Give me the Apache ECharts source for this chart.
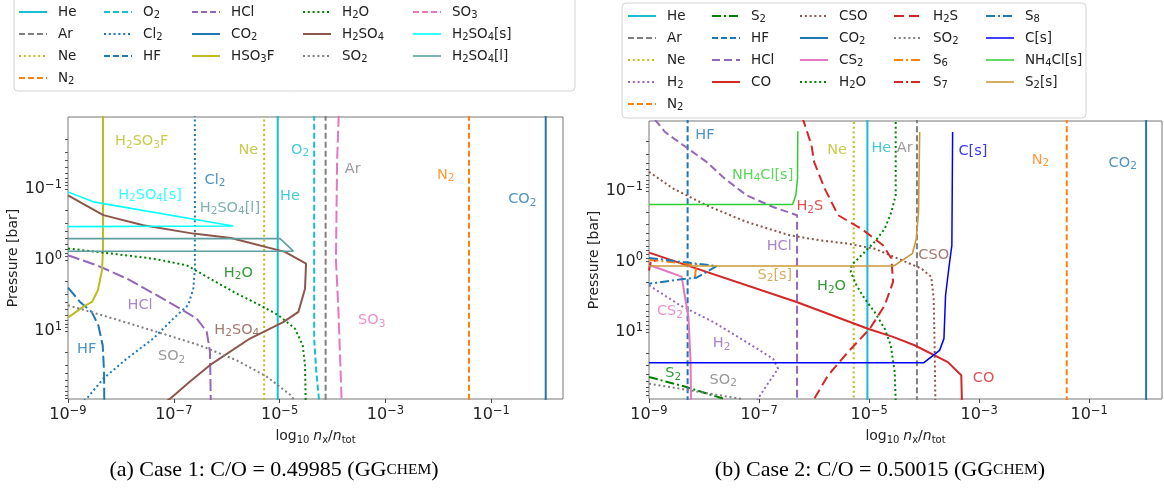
<!DOCTYPE html>
<html>
<head>
<meta charset="utf-8">
<script src="https://cdn.jsdelivr.net/npm/echarts@6/dist/echarts.min.js"></script>
<style>
  html, body { margin: 0; padding: 0; background: #fff; }
  #chart { width: 1164px; height: 494px; }
</style>
</head>
<body>
<div id="chart"></div>
<script>
// every curve is a list of [n_x/n_tot, pressure in bar]

// ---- case 1 (left panel) ----
const aHe = [[9.2e-6, 0.009], [9.2e-6, 100]];
const aAr = [[7.4e-5, 0.009], [7.4e-5, 100]];
const aNe = [[5.1e-6, 0.009], [5.1e-6, 100]];
const aN2 = [[0.038, 0.009], [0.038, 100]];
const aO2 = [[4.5e-5, 0.009], [4.5e-5, 13], [4.9e-5, 35], [5.6e-5, 100]];
const aCl2 = [[2.5e-7, 0.009], [2.5e-7, 1.33], [2.34e-7, 2.53], [1.88e-7, 4.3], [9.8e-8, 6.7],
  [4.1e-8, 12.8], [1.29e-8, 24.6], [4.65e-9, 47], [2.26e-9, 90], [1.9e-9, 100]];
const aHF = [[1.0e-9, 2.45], [1.69e-9, 3.91], [2.8e-9, 5.4], [3.74e-9, 8.3], [4.53e-9, 15.9],
  [4.8e-9, 37.8], [4.85e-9, 100]];
const aHCl = [[1e-9, 0.86], [3.5e-9, 1.19], [1.29e-8, 1.83], [4.75e-8, 3.14], [1.31e-7, 4.85],
  [2.71e-7, 6.7], [4.19e-7, 10.3], [4.83e-7, 19.8], [5.0e-7, 100]];
const aCO2 = [[1.07, 0.009], [1.07, 100]];
const aHSO3F = [[1e-9, 6.5], [1.92e-9, 4.59], [2.84e-9, 3.91], [3.69e-9, 2.65], [4.4e-9, 1.38],
  [4.59e-9, 0.72], [4.59e-9, 0.009]];
const aH2O = [[1e-9, 0.69], [6.2e-9, 0.81], [4.1e-8, 0.96], [1.75e-7, 1.19], [4.8e-7, 1.83],
  [1.55e-6, 2.98], [4.27e-6, 4.35], [9.4e-6, 6.0], [1.95e-5, 9.3], [2.73e-5, 15.9],
  [3.02e-5, 30.4], [3.11e-5, 100]];
const aH2SO4 = [[1e-9, 0.123], [4.65e-9, 0.234], [2.65e-8, 0.324], [2.34e-7, 0.426], [1.2e-6, 0.49],
  [1.26e-5, 0.77], [3.16e-5, 1.13], [3.02e-5, 2.54], [2.26e-5, 5.4], [1.17e-5, 7.5],
  [2.75e-6, 12.8], [4.8e-7, 30.4], [2.0e-7, 52], [8.5e-8, 90], [7e-8, 100]];
const aSO2 = [[1e-9, 4.35], [7.2e-9, 6.7], [4.75e-8, 10.3], [3.13e-7, 16], [1.55e-6, 26],
  [5.7e-6, 44], [1.6e-5, 80], [2.0e-5, 100]];
const aSO3 = [[1.31e-4, 0.009], [1.22e-4, 0.04], [1.16e-4, 1.0], [1.29e-4, 5.1], [1.49e-4, 100]];
const aH2SO4s = [[1e-9, 0.11], [3.0e-9, 0.152], [1.33e-6, 0.332], [1e-9, 0.34]];
const aH2SO4l = [[1e-9, 0.501], [1.02e-5, 0.501], [1.82e-5, 0.753], [1e-9, 0.753]];

// ---- case 2 (right panel) ----
const bHe = [[9.3e-6, 0.009], [9.3e-6, 100]];
const bAr = [[7.4e-5, 0.009], [7.4e-5, 100]];
const bNe = [[5.26e-6, 0.009], [5.26e-6, 100]];
const bN2 = [[0.039, 0.009], [0.039, 100]];
const bCO2 = [[1.08, 0.009], [1.08, 100]];
const bHF = [[5.03e-9, 0.009], [5.03e-9, 100]];
const bH2 = [[1e-9, 2.18], [3.66e-9, 4.18], [1.47e-8, 7.2], [5.9e-8, 13.9], [1.8e-7, 23.9],
  [2.22e-7, 33.2], [1.37e-7, 57], [9.6e-8, 88], [9e-8, 100]];
const bS2 = [[1e-9, 43.4], [4.8e-9, 60.3], [2.23e-8, 88], [2.6e-8, 100]];
const bHCl = [[1.29e-9, 0.0098], [1.95e-9, 0.0146], [4.2e-9, 0.0225], [1.11e-8, 0.0388],
  [2.39e-8, 0.067], [5.9e-8, 0.115], [1.8e-7, 0.169], [4.9e-7, 0.221], [4.9e-7, 100]];
const bCO = [[1e-9, 0.75], [4.8e-7, 3.75], [9.5e-6, 8.97], [2.72e-5, 11.7], [6.7e-5, 15.4],
  [2.7e-4, 26.7], [4.73e-4, 41], [4.86e-4, 100]];
const bCSO = [[1e-9, 0.0537], [2.76e-9, 0.0928], [1.11e-8, 0.16], [5.9e-8, 0.275], [3.6e-7, 0.425],
  [1.27e-6, 0.5], [4.14e-6, 0.56], [1.26e-5, 0.66], [3.35e-5, 0.91], [8.9e-5, 1.26],
  [1.35e-4, 1.66], [1.49e-4, 3.37], [1.55e-4, 15.4], [1.6e-4, 100]];
const bCS2 = [[1e-9, 1.12], [1.82e-9, 1.32], [3.92e-9, 1.64], [4.5e-9, 3.16], [5.2e-9, 6.07],
  [5.7e-9, 26.7], [5.8e-9, 100]];
const bH2O = [[3.04e-5, 0.009], [3.04e-5, 0.114], [2.54e-5, 0.199], [1.92e-5, 0.343],
  [1.26e-5, 0.528], [8.3e-6, 0.733], [6.3e-6, 0.912], [4.78e-6, 1.13], [4.64e-6, 1.41],
  [5.9e-6, 2.18], [8.3e-6, 3.37], [1.26e-5, 5.2], [1.92e-5, 8.97], [2.47e-5, 15.4],
  [2.92e-5, 36.9], [3.04e-5, 100]];
const bH2S = [[6.1e-7, 0.009], [8.97e-7, 0.0225], [1.0e-6, 0.0388], [1.56e-6, 0.0928],
  [2.73e-6, 0.221], [7.24e-6, 0.343], [1.79e-5, 0.589], [2.54e-5, 0.91], [2.72e-5, 1.95],
  [1.92e-5, 4.18], [1.03e-5, 8.97], [4.14e-6, 19.2], [1.8e-6, 41], [1.01e-6, 88], [9e-7, 100]];
const bSO2 = [[1e-9, 54], [5.5e-9, 67], [4.5e-8, 88], [6e-8, 100]];
const bS6 = [[1.02e-9, 0.95], [7.3e-9, 1.11], [6.8e-9, 1.7]];
const bS7 = [[1e-9, 1.35], [1.06e-9, 1.05], [1.3e-9, 0.97]];
const bS8 = [[1e-9, 0.89], [4.2e-9, 1.02], [1.69e-8, 1.16], [1.11e-8, 1.41], [7.3e-9, 1.7],
  [4.2e-9, 1.77], [1e-9, 2.07]];
const bCs = [[1e-9, 27.2], [9.9e-5, 27.2], [1.91e-4, 18.2], [2.29e-4, 12.4], [2.45e-4, 3.01],
  [2.9e-4, 1.02], [3.19e-4, 0.59], [3.29e-4, 0.0146]];
const bNH4Cl = [[1e-9, 0.156], [4.06e-7, 0.156], [4.66e-7, 0.115], [5.0e-7, 0.067], [5.06e-7, 0.0142]];
const bS2s = [[1e-9, 1.16], [2.8e-5, 1.16], [6.1e-5, 0.775], [7.2e-5, 0.475], [7.9e-5, 0.199],
  [8.3e-5, 0.0146]];

// tick labels
const xTicks = [1e-9, 1e-7, 1e-5, 1e-3, 1e-1];
const yTicks = [0.1, 1, 10];

// in-plot annotations: [text, species, x, p]
const aNotes = [
  ['H₂SO₃F', 'HSO₃F', 2.47e-8, 0.0216], ['Cl₂', 'Cl₂', 6.0e-7, 0.0747], ['Ne', 'Ne', 2.56e-6, 0.0283],
  ['He', 'He', 1.57e-5, 0.128], ['O₂', 'O₂', 2.43e-5, 0.0283], ['Ar', 'Ar', 2.41e-4, 0.0528],
  ['N₂', 'N₂', 0.0138, 0.0636], ['CO₂', 'CO₂', 0.387, 0.14], ['SO₃', 'SO₃', 5.5e-4, 7.16],
  ['H₂SO₄[s]', 'H₂SO₄[s]', 3.55e-8, 0.122], ['H₂SO₄[l]', 'H₂SO₄[l]', 1.15e-6, 0.187],
  ['H₂O', 'H₂O', 1.66e-6, 1.54], ['HCl', 'HCl', 2.3e-8, 4.3], ['H₂SO₄', 'H₂SO₄', 1.55e-6, 9.7],
  ['HF', 'HF', 2.25e-9, 18.1], ['SO₂', 'SO₂', 9.1e-8, 23]
];
const bNotes = [
  ['HF', 'HF', 1.04e-8, 0.0161], ['NH₄Cl[s]', 'NH₄Cl[s]', 1.16e-7, 0.0593], ['H₂S', 'H₂S', 8.36e-7, 0.167],
  ['HCl', 'HCl', 2.32e-7, 0.617], ['S₂[s]', 'S₂[s]', 1.94e-7, 1.55], ['H₂O', 'H₂O', 2.07e-6, 2.28],
  ['CS₂', 'CS₂', 2.4e-9, 5.15], ['H₂', 'H₂', 2.08e-8, 14.5], ['S₂', 'S₂', 2.76e-9, 38.6],
  ['SO₂', 'SO₂', 2.23e-8, 48], ['Ne', 'Ne', 2.61e-6, 0.0262], ['He', 'He', 1.67e-5, 0.0248],
  ['Ar', 'Ar', 4.43e-5, 0.0248], ['C[s]', 'C[s]', 7.7e-4, 0.0277], ['N₂', 'N₂', 0.013, 0.0363],
  ['CO₂', 'CO₂', 0.406, 0.0405], ['CSO', 'CSO', 1.49e-4, 0.81], ['CO', 'CO', 1.2e-3, 45.4]
];

const caseA = [['He', aHe], ['Ar', aAr], ['Ne', aNe], ['N₂', aN2], ['O₂', aO2], ['Cl₂', aCl2],
  ['HF', aHF], ['HCl', aHCl], ['CO₂', aCO2], ['HSO₃F', aHSO3F], ['H₂O', aH2O], ['H₂SO₄', aH2SO4],
  ['SO₂', aSO2], ['SO₃', aSO3], ['H₂SO₄[s]', aH2SO4s], ['H₂SO₄[l]', aH2SO4l]];
const caseB = [['He', bHe], ['Ar', bAr], ['Ne', bNe], ['H₂', bH2], ['N₂', bN2], ['S₂', bS2],
  ['HF', bHF], ['HCl', bHCl], ['CO', bCO], ['CSO', bCSO], ['CO₂', bCO2], ['CS₂', bCS2],
  ['H₂O', bH2O], ['H₂S', bH2S], ['SO₂', bSO2], ['S₆', bS6], ['S₇', bS7], ['S₈', bS8],
  ['C[s]', bCs], ['NH₄Cl[s]', bNH4Cl], ['S₂[s]', bS2s]];

// legend columns (matplotlib fills them top to bottom)
const legendA = [['He', 'Ar', 'Ne', 'N₂'], ['O₂', 'Cl₂', 'HF'], ['HCl', 'CO₂', 'HSO₃F'],
  ['H₂O', 'H₂SO₄', 'SO₂'], ['SO₃', 'H₂SO₄[s]', 'H₂SO₄[l]']];
const legendB = [['He', 'Ar', 'Ne', 'H₂', 'N₂'], ['S₂', 'HF', 'HCl', 'CO'], ['CSO', 'CO₂', 'CS₂', 'H₂O'],
  ['H₂S', 'SO₂', 'S₆', 'S₇'], ['S₈', 'C[s]', 'NH₄Cl[s]', 'S₂[s]']];

// ---- styles ----
const FONT = 'DejaVu Sans';
const DASH = [6, 3], LDASH = [12, 4], DOT = [2, 2.8], DASHDOT = [9, 3, 2, 3];
const stylesA = {
  'He': ['#17becf', 'solid', 2], 'Ar': ['#7f7f7f', DASH, 2], 'Ne': ['#bcbd22', DOT, 2],
  'N₂': ['#ff7f0e', DASH, 2], 'O₂': ['#17becf', DASH, 2], 'Cl₂': ['#1f77b4', DOT, 2],
  'HF': ['#1f77b4', LDASH, 2], 'HCl': ['#9467bd', LDASH, 2], 'CO₂': ['#1f77b4', 'solid', 2],
  'HSO₃F': ['#bcbd22', 'solid', 2], 'H₂O': ['#008000', DOT, 2], 'H₂SO₄': ['#8c564b', 'solid', 2],
  'SO₂': ['#7f7f7f', DOT, 2], 'SO₃': ['#e377c2', LDASH, 2], 'H₂SO₄[s]': ['#00ffff', 'solid', 1.6],
  'H₂SO₄[l]': ['#5f9ea0', 'solid', 1.6]
};
const stylesB = {
  'He': ['#17becf', 'solid', 2], 'Ar': ['#7f7f7f', DASH, 2], 'Ne': ['#bcbd22', DOT, 2],
  'H₂': ['#9467bd', DOT, 2], 'N₂': ['#ff7f0e', DASH, 2], 'S₂': ['#008000', DASHDOT, 2],
  'HF': ['#1f77b4', DASH, 2], 'HCl': ['#9467bd', [8, 4], 2], 'CO': ['#d62728', 'solid', 2],
  'CSO': ['#8c564b', DOT, 2], 'CO₂': ['#1f77b4', 'solid', 2], 'CS₂': ['#e377c2', 'solid', 2],
  'H₂O': ['#008000', DOT, 2], 'H₂S': ['#d62728', [10, 5], 2], 'SO₂': ['#7f7f7f', DOT, 2],
  'S₆': ['#ff7f0e', DASHDOT, 2], 'S₇': ['#d62728', DASHDOT, 2], 'S₈': ['#1f77b4', DASHDOT, 2],
  'C[s]': ['#0000ff', 'solid', 1.5], 'NH₄Cl[s]': ['#32cd32', 'solid', 1.5], 'S₂[s]': ['#c9993a', 'solid', 1.6]
};

// subscript digits -> rich text so they look like mathtext
const SUBS = '₀₁₂₃₄₅₆₇₈₉';
const rich = s => s.replace(/[₀-₉]+/g, m => '{s|' + m.split('').map(c => SUBS.indexOf(c)).join('') + '}');
const pow10 = v => '{b|10}{e|' + String(Math.round(Math.log10(v))).replace('-', '−') + '}';
const tickRich = {
  b: { fontFamily: FONT, fontSize: 16, lineHeight: 20, color: '#222' },
  e: { fontFamily: FONT, fontSize: 11.5, lineHeight: 12, verticalAlign: 'top', color: '#222' }
};

// y tick marks: decades plus the 2..9 x 10^k minor marks matplotlib draws
const yTickMarks = yTicks.slice();
for (let k = -3; k <= 1; k++) for (let m = 2; m <= 9; m++) yTickMarks.push(m * Math.pow(10, k));

const chart = echarts.init(document.getElementById('chart'));

function makeSeries(list, styles, gi) {
  return list.map(([name, data]) => {
    const st = styles[name];
    return {
      type: 'line', name, data, xAxisIndex: gi, yAxisIndex: gi,
      symbol: 'none', showSymbol: false, silent: true, animation: false, z: 3,
      lineStyle: { color: st[0], width: st[2], type: st[1] },
      itemStyle: { color: st[0] },
      emphasis: { disabled: true }
    };
  });
}

function makeNotes(notes, styles, gi) {
  return {
    type: 'scatter', name: '_notes' + gi, xAxisIndex: gi, yAxisIndex: gi,
    symbolSize: 1, itemStyle: { color: 'transparent' }, silent: true, animation: false, z: 6,
    label: {
      show: true, position: 'inside', formatter: p => rich(p.name),
      fontFamily: FONT, fontSize: 14.5, lineHeight: 18
    },
    data: notes.map(n => {
      const c = styles[n[1]][0];
      return {
        name: n[0], value: [n[2], n[3]],
        label: { color: c, rich: { s: { fontFamily: FONT, fontSize: 10.5, lineHeight: 11, verticalAlign: 'bottom', color: c } } }
      };
    })
  };
}

function makeLegends(cols, xs, top, styles) {
  return cols.map((names, i) => ({
    orient: 'vertical', left: xs[i], top, padding: 0, itemGap: 6, itemWidth: 28, itemHeight: 14,
    selectedMode: false, z: 5,
    formatter: rich,
    itemStyle: { opacity: 0 },
    textStyle: {
      fontFamily: FONT, fontSize: 13.5, lineHeight: 16, color: '#222', padding: [0, 0, 0, 6],
      rich: { s: { fontFamily: FONT, fontSize: 10, lineHeight: 10, verticalAlign: 'bottom', color: '#222' } }
    },
    data: names.map(n => ({
      name: n,
      itemStyle: { opacity: 0 },
      lineStyle: { color: styles[n][0], width: styles[n][2], type: styles[n][1] === LDASH ? DASH : styles[n][1] }
    }))
  }));
}

function xAxisFor(gi, max) {
  return {
    type: 'log', logBase: 10, gridIndex: gi, min: 1e-9, max,
    name: '{t|log}{s|10} {i|n}{s|x}{t|/}{i|n}{s|tot}', nameLocation: 'middle', nameGap: 28,
    nameTextStyle: {
      fontFamily: FONT, color: '#222',
      rich: {
        t: { fontFamily: FONT, fontSize: 14, lineHeight: 18, color: '#222' },
        i: { fontFamily: FONT, fontSize: 14, lineHeight: 18, fontStyle: 'italic', color: '#222' },
        s: { fontFamily: FONT, fontSize: 10, lineHeight: 10, verticalAlign: 'bottom', color: '#222' }
      }
    },
    axisLine: { show: false },
    splitLine: { show: false },
    axisTick: { show: true, customValues: xTicks, length: 4, lineStyle: { color: '#444' } },
    axisLabel: { customValues: xTicks, formatter: pow10, rich: tickRich, margin: 6 }
  };
}

function yAxisFor(gi, min, max) {
  return {
    type: 'log', logBase: 10, gridIndex: gi, min, max, inverse: true, position: 'left',
    name: 'Pressure [bar]', nameLocation: 'middle', nameGap: 42, nameRotate: 90,
    nameTextStyle: { fontFamily: FONT, fontSize: 14, color: '#222' },
    axisLine: { show: false },
    splitLine: { show: false },
    axisTick: { show: true, customValues: yTickMarks, length: 3, lineStyle: { color: '#555' } },
    axisLabel: { customValues: yTicks, formatter: pow10, rich: tickRich, margin: 6 }
  };
}

const gridStyle = { show: true, borderColor: '#777', borderWidth: 1, backgroundColor: 'transparent' };
const capRich = {
  n: { fontFamily: 'Liberation Serif', fontSize: 22, color: '#000' },
  c: { fontFamily: 'Liberation Serif', fontSize: 15.5, color: '#000' }
};

chart.setOption({
  animation: false,
  grid: [
    Object.assign({ left: 68, top: 117, width: 495, height: 282 }, gridStyle),
    Object.assign({ left: 649, top: 121, width: 513, height: 278 }, gridStyle)
  ],
  xAxis: [xAxisFor(0, 2.27), xAxisFor(1, 2.1)],
  yAxis: [yAxisFor(0, 0.0097, 91), yAxisFor(1, 0.0102, 89)],
  legend: makeLegends(legendA, [18, 103, 191, 302, 412], 4, stylesA)
    .concat(makeLegends(legendB, [627, 711, 799, 893, 985], 8, stylesB)),
  graphic: [
    { type: 'rect', z: 1, shape: { x: 14, y: -4, width: 561, height: 95, r: 4 },
      style: { fill: 'rgba(255,255,255,0.8)', stroke: '#d4d4d4', lineWidth: 1 } },
    { type: 'rect', z: 1, shape: { x: 622, y: 3, width: 464, height: 115, r: 4 },
      style: { fill: 'rgba(255,255,255,0.8)', stroke: '#d4d4d4', lineWidth: 1 } },
    { type: 'text', z: 1, x: 274, y: 470,
      style: { text: '{n|(a) Case 1: C/O = 0.49985 (GG}{c|CHEM}{n|)}', align: 'center', verticalAlign: 'middle', rich: capRich } },
    { type: 'text', z: 1, x: 880, y: 470,
      style: { text: '{n|(b) Case 2: C/O = 0.50015 (GG}{c|CHEM}{n|)}', align: 'center', verticalAlign: 'middle', rich: capRich } }
  ],
  series: makeSeries(caseA, stylesA, 0)
    .concat(makeSeries(caseB, stylesB, 1))
    .concat([makeNotes(aNotes, stylesA, 0), makeNotes(bNotes, stylesB, 1)])
});
</script>
</body>
</html>
